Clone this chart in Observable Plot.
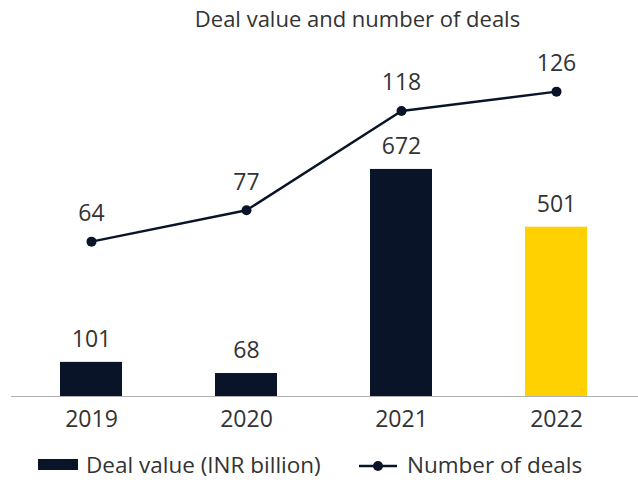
<!DOCTYPE html>
<html>
<head>
<meta charset="utf-8">
<script src="https://cdn.jsdelivr.net/npm/d3@7"></script>
<script src="https://cdn.jsdelivr.net/npm/@observablehq/plot@0.6"></script>
<style>
  body { margin: 0; background: #fff; font-family: "Open Sans", "DejaVu Sans", sans-serif; color: #333; }
  #wrap { position: relative; width: 638px; height: 480px; }
  #title { position: absolute; left: 0; top: 0; width: 638px; text-align: center; padding-left: 77px; box-sizing: border-box; font-size: 22px; line-height: 36px; color: #333; }
  #chart { position: absolute; left: 0; top: 40px; }
  #legend { position: absolute; left: 0; top: 447px; width: 638px; height: 36px; font-size: 22.5px; color: #333; }
  .sw { position: absolute; }
  .lt { position: absolute; line-height: 36px; top: 0; white-space: nowrap; }
</style>
</head>
<body>
<div id="wrap">
  <div id="title">Deal value and number of deals</div>
  <div id="chart"></div>
  <div id="legend">
    <div class="sw" style="left:38px; top:12px; width:40px; height:11px; background:#0a1428"></div>
    <div class="lt" style="left:86px">Deal value (INR billion)</div>
    <svg class="sw" style="left:357px; top:7px" width="42" height="24">
      <line x1="2" x2="40" y1="12" y2="12" stroke="#0a1428" stroke-width="2.5"></line>
      <circle cx="21" cy="12" r="5" fill="#0a1428"></circle>
    </svg>
    <div class="lt" style="left:407px">Number of deals</div>
  </div>
</div>
<script>
const years = ["2019", "2020", "2021", "2022"];
const dealValue = [101, 68, 672, 501];
const dealCount = [64, 77, 118, 126];
const barColors = ["#0a1428", "#0a1428", "#0a1428", "#ffd100"];

const barMax = 1024;   // top of the bar axis
const countMax = 143;  // top of the deal-count axis (shares the baseline)
const k = barMax / countMax;

const data = years.map((y, i) => ({year: y, value: dealValue[i], count: dealCount[i], color: barColors[i]}));

const plot = Plot.plot({
  width: 638,
  height: 400,
  marginTop: 10,
  marginBottom: 44,
  marginLeft: 11,
  marginRight: 0,
  style: {fontFamily: "'Open Sans', 'DejaVu Sans', sans-serif", color: "#333", background: "#fff"},
  x: {domain: years, range: [13.5, 633.5], paddingInner: 0.6, paddingOuter: 0.3, label: null},
  y: {domain: [0, barMax], axis: null},
  marks: [
    Plot.barY(data, {x: "year", y: "value", fill: "color"}),
    Plot.ruleY([0], {stroke: "#b0b0b0", strokeWidth: 1.2}),
    Plot.text(data, {x: "year", y: "value", text: d => String(d.value), dy: -23, fontSize: 23, fill: "#333", lineAnchor: "middle"}),
    Plot.line(data, {x: "year", y: d => d.count * k, stroke: "#0a1428", strokeWidth: 2.5}),
    Plot.dot(data, {x: "year", y: d => d.count * k, r: 5, fill: "#0a1428", stroke: null}),
    Plot.text(data, {x: "year", y: d => d.count * k, text: d => String(d.count), dy: -28, fontSize: 23, fill: "#333", lineAnchor: "middle"}),
    Plot.axisX({tickSize: 0, tickPadding: 14, fontSize: 23, fill: "#333", label: null})
  ]
});
document.getElementById("chart").appendChild(plot);
</script>
</body>
</html>
